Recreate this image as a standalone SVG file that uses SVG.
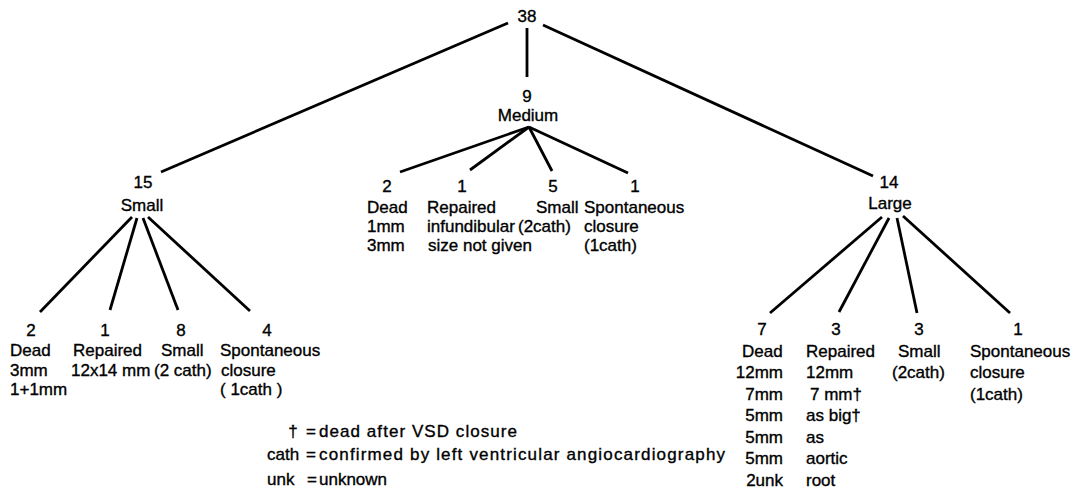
<svg xmlns="http://www.w3.org/2000/svg" width="1076" height="494" viewBox="0 0 1076 494">
<style>
text{font-family:"Liberation Sans",Arial,sans-serif;font-size:17px;fill:#000;stroke:#000;stroke-width:0.35px}
.c{text-anchor:middle}
.e{text-anchor:end}
#connectors line{stroke:#000;stroke-width:2.8;stroke-linecap:butt}
</style>
<rect width="1076" height="494" fill="#fff"/>
<g id="connectors">
<line x1="508" y1="23" x2="161" y2="172"/>
<line x1="527" y1="28" x2="527" y2="77"/>
<line x1="543" y1="25" x2="873" y2="176"/>
<line x1="132" y1="217" x2="40" y2="312"/>
<line x1="137" y1="218" x2="110" y2="310"/>
<line x1="143" y1="218" x2="178" y2="310"/>
<line x1="148" y1="217" x2="250" y2="311"/>
<line x1="529" y1="127" x2="400" y2="172"/>
<line x1="529" y1="127" x2="470" y2="170"/>
<line x1="529" y1="127" x2="552" y2="171"/>
<line x1="529" y1="127" x2="628" y2="173"/>
<line x1="882" y1="217" x2="770" y2="313"/>
<line x1="889" y1="218" x2="839" y2="312"/>
<line x1="897" y1="218" x2="917" y2="313"/>
<line x1="903" y1="216" x2="1010" y2="313"/>
</g>
<g id="root"><text class="c" x="527" y="22">38</text></g>
<g id="small"><text class="c" x="143" y="188">15</text><text class="c" x="142" y="211">Small</text></g>
<g id="medium"><text class="c" x="527" y="102">9</text><text class="c" x="528" y="121">Medium</text></g>
<g id="large"><text class="c" x="889" y="188">14</text><text class="c" x="890" y="209">Large</text></g>

<g id="small-dead"><text class="c" x="31" y="336">2</text><text x="10" y="356">Dead</text><text x="10" y="376">3mm</text><text x="10" y="395">1+1mm</text></g>
<g id="small-repaired"><text class="c" x="105" y="336">1</text><text x="73" y="356">Repaired</text><text x="71" y="376">12x14 mm</text></g>
<g id="small-small"><text class="c" x="181" y="336">8</text><text x="161" y="356">Small</text><text x="154" y="376">(2 cath)</text></g>
<g id="small-spont"><text class="c" x="267" y="336">4</text><text x="220" y="356">Spontaneous</text><text x="221" y="376">closure</text><text x="220" y="395">( 1cath )</text></g>

<g id="medium-dead"><text class="c" x="387" y="192">2</text><text x="367" y="213">Dead</text><text x="367" y="232">1mm</text><text x="367" y="251">3mm</text></g>
<g id="medium-repaired"><text class="c" x="462" y="192">1</text><text x="427" y="213">Repaired</text><text x="427" y="232">infundibular</text><text x="428" y="251">size not given</text></g>
<g id="medium-small"><text class="c" x="553" y="192">5</text><text x="536" y="213">Small</text><text x="518" y="232">(2cath)</text></g>
<g id="medium-spont"><text class="c" x="635" y="192">1</text><text x="584" y="213">Spontaneous</text><text x="584" y="232">closure</text><text x="584" y="251">(1cath)</text></g>

<g id="large-dead"><text class="c" x="762" y="335">7</text><text x="742" y="357">Dead</text><text class="e" x="783" y="378">12mm</text><text class="e" x="783" y="400">7mm</text><text class="e" x="783" y="421">5mm</text><text class="e" x="783" y="443">5mm</text><text class="e" x="783" y="464">5mm</text><text class="e" x="783" y="486">2unk</text></g>
<g id="large-repaired"><text class="c" x="836" y="335">3</text><text x="806" y="357">Repaired</text><text x="806" y="378">12mm</text><text x="810" y="400">7 mm†</text><text x="806" y="421">as big†</text><text x="806" y="443">as</text><text x="806" y="464">aortic</text><text x="806" y="486">root</text></g>
<g id="large-small"><text class="c" x="919" y="335">3</text><text x="898" y="357">Small</text><text x="892" y="378">(2cath)</text></g>
<g id="large-spont"><text class="c" x="1018" y="335">1</text><text x="970" y="357">Spontaneous</text><text x="970" y="378">closure</text><text x="970" y="400">(1cath)</text></g>

<g id="legend">
<text class="c" x="293" y="437">†</text><text x="306" y="437">=</text><text x="319" y="437" textLength="198" lengthAdjust="spacing">dead after VSD closure</text>
<text x="267" y="460">cath</text><text x="306" y="460">=</text><text x="319" y="460" textLength="406" lengthAdjust="spacing">confirmed by left ventricular angiocardiography</text>
<text x="267" y="485">unk</text><text x="307" y="485">=</text><text x="319" y="485">unknown</text>
</g>
</svg>
